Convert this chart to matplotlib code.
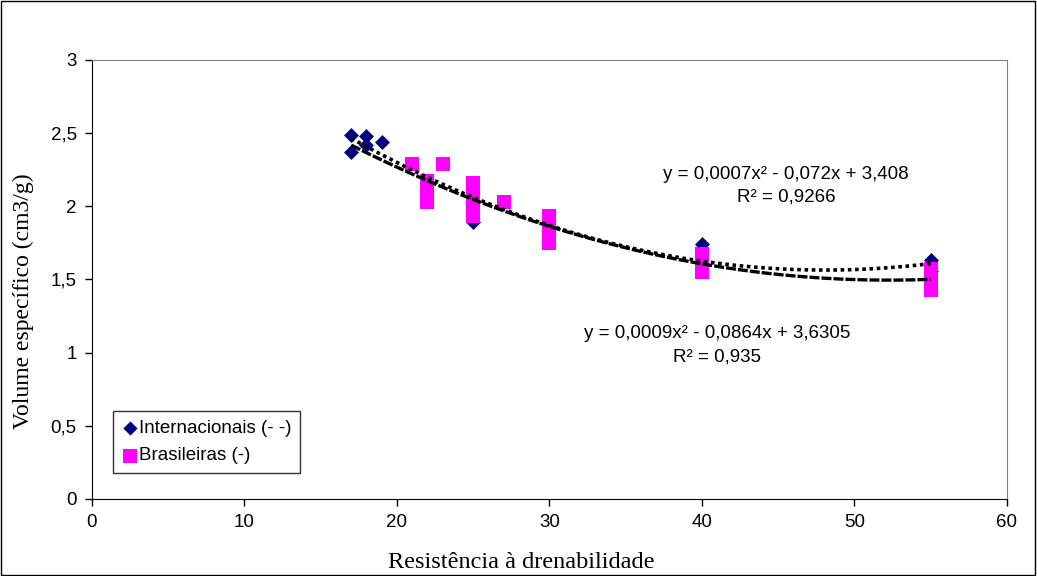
import numpy as np
import matplotlib
matplotlib.use("Agg")
import matplotlib.pyplot as plt
from matplotlib.ticker import FuncFormatter, MultipleLocator

# Internacionais (blue diamonds); the last two sit hidden under the magenta bars
int_x = [17, 17, 18, 18, 19, 25, 40, 55, 40, 55]
int_y = [2.49, 2.37, 2.48, 2.42, 2.44, 1.89, 1.74, 1.63, 1.60, 1.56]

# Brasileiras (magenta squares, stacked ones overlap into bars)
bra_x = [21, 22, 22, 22, 23, 25, 25, 25, 25, 27, 30, 30, 30, 40, 40, 40, 55, 55, 55]
bra_y = [2.29, 2.17, 2.10, 2.03, 2.29, 2.16, 2.08, 2.00, 1.93, 2.03,
         1.93, 1.84, 1.75, 1.67, 1.61, 1.55, 1.57, 1.50, 1.43]

eq_int = "y = 0,0009x² - 0,0864x + 3,6305\nR² = 0,935"
eq_bra = "y = 0,0007x² - 0,072x + 3,408\nR² = 0,9266"

sans = ["Liberation Sans", "DejaVu Sans"]
serif = ["Liberation Serif", "DejaVu Serif"]
plt.rcParams['font.family'] = sans

fig = plt.figure(figsize=(10.37, 5.76), dpi=100)
ax = fig.add_axes([0.0887, 0.134, 0.8823, 0.762])

# figure border
fig.patches.append(plt.Rectangle((0.0005, 0.001), 0.998, 0.997, transform=fig.transFigure,
                                 fill=False, edgecolor="black", linewidth=1))

# brazilian series drawn above the international one, as in the original
ax.scatter(int_x, int_y, marker="D", s=58, color="#000080", linewidths=0, zorder=2,
           label="Internacionais (- -)")
ax.scatter(bra_x, bra_y, marker="s", s=110, color="#FF00FF", linewidths=0, zorder=3,
           label="Brasileiras (-)")

# quadratic trendlines fitted to each series
xs = np.linspace(17, 55, 200)
c_int = np.polyfit(int_x, int_y, 2)
c_bra = np.polyfit(bra_x, bra_y, 2)
ax.plot(xs, np.polyval(c_int, xs), color="black", lw=2.6, linestyle=(0, (1, 1)),
        dash_capstyle="butt", zorder=4)
ax.plot(xs, np.polyval(c_bra, xs), color="black", lw=2.4, linestyle=(0, (3, 0.6)),
        dash_capstyle="butt", zorder=4)

ax.text(45.5, 2.14, eq_bra, ha="center", va="center", fontsize=13.5, linespacing=1.45)
ax.text(41.0, 1.05, eq_int, ha="center", va="center", fontsize=13.5, linespacing=1.45)

ax.set_xlim(0, 60)
ax.set_ylim(0, 3)
ax.xaxis.set_major_locator(MultipleLocator(10))
ax.yaxis.set_major_locator(MultipleLocator(0.5))
ax.yaxis.set_major_formatter(FuncFormatter(lambda v, p: f"{v:g}".replace(".", ",")))
ax.tick_params(direction="out", length=5, width=1, labelsize=13.5, pad=6)

for s in ["top", "right"]:
    ax.spines[s].set_color("#808080")

fig.text(0.5024, 0.0243, "Resistência à drenabilidade", family=serif, fontsize=17.5,
         ha="center", va="center")
fig.text(0.0222, 0.4774, "Volume específico (cm3/g)", family=serif, fontsize=17,
         rotation=90, ha="center", va="center")

leg = ax.legend(loc="lower left", bbox_to_anchor=(0.023, 0.059),
                fontsize=13.5, frameon=True, fancybox=False, edgecolor="black",
                handletextpad=0.05, borderaxespad=0, handlelength=0.9, borderpad=0.45,
                labelspacing=0.55, markerscale=0.95)
leg.get_frame().set_linewidth(1)

fig.savefig("out.png", dpi=100)
